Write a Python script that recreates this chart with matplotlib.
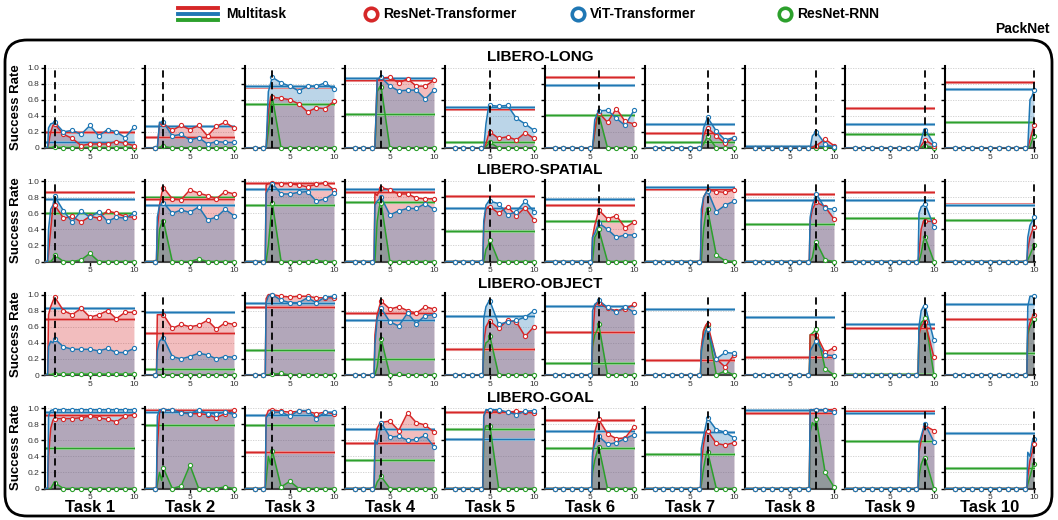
import numpy as np
import matplotlib
matplotlib.use("Agg")
import matplotlib.pyplot as plt
from matplotlib.patches import FancyBboxPatch
from matplotlib.lines import Line2D
from matplotlib.colors import to_rgb

plt.rcParams['font.family'] = ['Liberation Sans', 'DejaVu Sans']

ROW_TITLES = ['LIBERO-LONG', 'LIBERO-SPATIAL', 'LIBERO-OBJECT', 'LIBERO-GOAL']
TASK_LABELS = [f'Task {i}' for i in range(1, 11)]
SERIES = ['ResNet-Transformer', 'ViT-Transformer', 'ResNet-RNN']
X_TICKS = [5, 10]
Y_TICKS = [0, 0.2, 0.4, 0.6, 0.8, 1.0]
Y_TICKLABELS = ['0', '0.2', '0.4', '0.6', '0.8', '1.0']
# x offsets (relative to task k) of the learning-phase samples
TRAIN_OFFSETS = [-0.8, -0.7, -0.45, -0.2]

# ---------------- LIBERO-LONG ----------------
LONG_RED_EVAL = [
    [0.30, 0.17, 0.12, 0.03, 0.05, 0.05, 0.05, 0.08, 0.06, 0.03],
    [0.30, 0.22, 0.28, 0.23, 0.28, 0.15, 0.27, 0.32, 0.25],
    [0.63, 0.62, 0.60, 0.55, 0.45, 0.50, 0.49, 0.58],
    [0.87, 0.88, 0.81, 0.86, 0.77, 0.77, 0.84],
    [0.20, 0.12, 0.14, 0.10, 0.19, 0.12],
    [0.44, 0.32, 0.49, 0.33, 0.30],
    [0.25, 0.15, 0.06, 0.13],
    [0.03, 0.11, 0.03],
    [0.10, 0.03],
    [0.28]]
LONG_BLUE_EVAL = [
    [0.32, 0.20, 0.22, 0.17, 0.28, 0.15, 0.23, 0.20, 0.13, 0.26],
    [0.32, 0.15, 0.17, 0.10, 0.13, 0.05, 0.08, 0.07, 0.07],
    [0.88, 0.81, 0.77, 0.71, 0.77, 0.77, 0.81, 0.73],
    [0.88, 0.77, 0.71, 0.72, 0.72, 0.61, 0.72],
    [0.53, 0.52, 0.53, 0.37, 0.30, 0.22],
    [0.46, 0.47, 0.37, 0.28, 0.47],
    [0.38, 0.21, 0.10, 0.13],
    [0.20, 0.05, 0.01],
    [0.23, 0.05],
    [0.72]]
LONG_GREEN_EVAL = [
    [0.01, 0, 0, 0, 0, 0, 0, 0, 0, 0],
    [0.02, 0, 0, 0, 0, 0, 0, 0, 0],
    [0.63, 0, 0, 0, 0, 0, 0, 0],
    [0.76, 0, 0, 0, 0, 0, 0],
    [0.07, 0, 0, 0, 0, 0],
    [0.42, 0, 0, 0, 0],
    [0.15, 0, 0, 0],
    [0, 0, 0],
    [0.03, 0],
    [0.15]]
LONG_RED_TRAIN = [[0, 0.05, 0.20, 0.28], [0, 0, 0.30, 0.30], [0, 0, 0.45, 0.62], [0, 0, 0.85, 0.86],
                  [0, 0, 0.05, 0.15], [0, 0, 0.20, 0.40], [0, 0, 0.15, 0.22], [0, 0, 0.01, 0.02],
                  [0, 0, 0.03, 0.07], [0, 0, 0.10, 0.20]]
LONG_BLUE_TRAIN = [[0, 0.25, 0.30, 0.31], [0, 0, 0.32, 0.32], [0, 0, 0.70, 0.80], [0, 0, 0.85, 0.87],
                   [0, 0, 0.30, 0.48], [0, 0, 0.35, 0.42], [0, 0, 0.25, 0.32], [0, 0, 0.15, 0.18],
                   [0, 0, 0.10, 0.20], [0, 0, 0.60, 0.65]]
LONG_GREEN_TRAIN = [[0, 0, 0, 0.01], [0, 0, 0.01, 0.02], [0, 0, 0.20, 0.50], [0, 0, 0.70, 0.75],
                    [0, 0, 0.02, 0.05], [0, 0, 0.20, 0.35], [0, 0, 0.05, 0.10], [0, 0, 0, 0],
                    [0, 0, 0.01, 0.02], [0, 0, 0.02, 0.10]]
LONG_MT_RED = [0.20, 0.14, 0.76, 0.84, 0.48, 0.88, 0.19, 0.03, 0.50, 0.82]
LONG_MT_BLUE = [0.07, 0.27, 0.77, 0.87, 0.51, 0.78, 0.30, 0.02, 0.30, 0.73]
LONG_MT_GREEN = [0.01, 0.0, 0.55, 0.42, 0.07, 0.41, 0.07, 0.0, 0.18, 0.32]

# ---------------- LIBERO-SPATIAL ----------------
SPATIAL_RED_EVAL = [
    [0.70, 0.54, 0.56, 0.49, 0.56, 0.54, 0.63, 0.60, 0.56, 0.55],
    [0.92, 0.78, 0.77, 0.89, 0.85, 0.82, 0.78, 0.87, 0.84],
    [0.98, 0.97, 0.97, 0.95, 0.93, 0.96, 0.98, 0.89],
    [0.92, 0.89, 0.84, 0.84, 0.79, 0.78, 0.78],
    [0.68, 0.60, 0.68, 0.57, 0.67, 0.52],
    [0.64, 0.53, 0.57, 0.42, 0.49],
    [0.89, 0.87, 0.86, 0.89],
    [0.74, 0.68, 0.53],
    [0.50, 0.50],
    [0.43]]
SPATIAL_BLUE_EVAL = [
    [0.81, 0.63, 0.49, 0.63, 0.55, 0.62, 0.50, 0.55, 0.54, 0.60],
    [0.73, 0.60, 0.64, 0.61, 0.68, 0.52, 0.55, 0.65, 0.57],
    [0.97, 0.84, 0.84, 0.86, 0.87, 0.75, 0.78, 0.85],
    [0.80, 0.58, 0.63, 0.66, 0.66, 0.72, 0.65],
    [0.75, 0.72, 0.58, 0.62, 0.75, 0.62],
    [0.48, 0.40, 0.30, 0.33, 0.33],
    [0.88, 0.62, 0.70, 0.75],
    [0.84, 0.66, 0.65],
    [0.72, 0.43],
    [0.55]]
SPATIAL_GREEN_EVAL = [
    [0.08, 0, 0, 0.02, 0.10, 0, 0, 0, 0, 0],
    [0.50, 0, 0, 0, 0.03, 0, 0, 0, 0],
    [0.73, 0, 0, 0, 0, 0.01, 0, 0],
    [0.73, 0, 0, 0, 0, 0, 0],
    [0.27, 0, 0, 0, 0, 0],
    [0.40, 0, 0, 0, 0],
    [0.65, 0.08, 0.01, 0],
    [0.24, 0.02, 0],
    [0.30, 0.0],
    [0.20]]
SPATIAL_RED_TRAIN = [[0, 0.10, 0.40, 0.68], [0, 0.40, 0.70, 0.85], [0, 0.95, 0.97, 0.97], [0, 0.85, 0.82, 0.88],
                     [0, 0.45, 0.65, 0.68], [0, 0.30, 0.45, 0.55], [0, 0.50, 0.80, 0.85], [0, 0.50, 0.65, 0.70],
                     [0, 0.10, 0.40, 0.50], [0, 0.15, 0.30, 0.38]]
SPATIAL_BLUE_TRAIN = [[0, 0.40, 0.65, 0.70], [0, 0.55, 0.70, 0.72], [0, 0.85, 0.90, 0.95], [0, 0.70, 0.75, 0.78],
                      [0, 0.50, 0.70, 0.74], [0, 0.30, 0.35, 0.42], [0, 0.65, 0.80, 0.85], [0, 0.55, 0.70, 0.78],
                      [0, 0.60, 0.68, 0.70], [0, 0.30, 0.45, 0.50]]
SPATIAL_GREEN_TRAIN = [[0, 0, 0, 0.03], [0, 0, 0.40, 0.48], [0, 0, 0.20, 0.50], [0, 0, 0.50, 0.68],
                       [0, 0, 0.15, 0.20], [0, 0, 0.30, 0.35], [0, 0, 0.40, 0.60], [0, 0, 0.05, 0.20],
                       [0, 0, 0.10, 0.25], [0, 0.02, 0.08, 0.15]]
SPATIAL_MT_RED = [0.87, 0.78, 0.98, 0.87, 0.82, 0.70, 0.90, 0.84, 0.87, 0.72]
SPATIAL_MT_BLUE = [0.78, 0.70, 0.90, 0.90, 0.67, 0.78, 0.93, 0.76, 0.76, 0.70]
SPATIAL_MT_GREEN = [0.60, 0.80, 0.70, 0.74, 0.38, 0.50, 0.90, 0.47, 0.54, 0.52]

# ---------------- LIBERO-OBJECT ----------------
OBJECT_RED_EVAL = [
    [0.97, 0.80, 0.75, 0.83, 0.72, 0.75, 0.80, 0.70, 0.78, 0.78],
    [0.75, 0.58, 0.63, 0.60, 0.62, 0.68, 0.57, 0.65, 0.63],
    [1.00, 0.98, 0.97, 0.98, 0.98, 0.96, 0.96, 0.96],
    [0.92, 0.82, 0.85, 0.80, 0.77, 0.85, 0.82],
    [0.67, 0.58, 0.68, 0.66, 0.48, 0.60],
    [0.90, 0.83, 0.80, 0.82, 0.88],
    [0.64, 0.20, 0.10, 0.25],
    [0.50, 0.28, 0.34],
    [0.66, 0.22],
    [0.75]]
OBJECT_BLUE_EVAL = [
    [0.45, 0.35, 0.32, 0.32, 0.32, 0.30, 0.33, 0.28, 0.28, 0.33],
    [0.46, 0.23, 0.20, 0.23, 0.27, 0.25, 0.20, 0.23, 0.22],
    [1.00, 0.93, 0.90, 0.90, 0.96, 0.90, 0.97, 0.98],
    [0.83, 0.66, 0.61, 0.77, 0.64, 0.74, 0.75],
    [0.92, 0.63, 0.66, 0.68, 0.72, 0.80],
    [0.93, 0.84, 0.78, 0.85, 0.78],
    [0.57, 0.20, 0.28, 0.27],
    [0.42, 0.25, 0.24],
    [0.86, 0.43],
    [0.98]]
OBJECT_GREEN_EVAL = [
    [0.01, 0.01, 0.01, 0.01, 0.01, 0.01, 0.01, 0.01, 0.01, 0.01],
    [0, 0, 0, 0, 0, 0, 0, 0, 0],
    [0.01, 0.02, 0, 0, 0, 0, 0, 0],
    [0.45, 0, 0.01, 0, 0, 0, 0],
    [0.48, 0, 0, 0, 0, 0],
    [0.63, 0, 0, 0, 0],
    [0.62, 0, 0.05, 0],
    [0.57, 0.08, 0],
    [0.71, 0],
    [0.70]]
OBJECT_RED_TRAIN = [[0, 0.75, 0.85, 0.92], [0, 0.75, 0.75, 0.75], [0, 0.95, 1.00, 1.00], [0, 0.50, 0.75, 0.85],
                    [0, 0.40, 0.60, 0.65], [0, 0.40, 0.85, 0.90], [0, 0.35, 0.55, 0.62], [0, 0.50, 0.50, 0.50],
                    [0, 0.50, 0.60, 0.64], [0, 0.55, 0.65, 0.72]]
OBJECT_BLUE_TRAIN = [[0, 0.35, 0.42, 0.40], [0, 0.30, 0.42, 0.45], [0, 0.90, 0.98, 1.00], [0, 0.38, 0.70, 0.78],
                     [0, 0.70, 0.85, 0.90], [0, 0.80, 0.88, 0.90], [0, 0.30, 0.45, 0.55], [0, 0.30, 0.35, 0.40],
                     [0, 0.60, 0.80, 0.85], [0, 0.85, 0.98, 0.98]]
OBJECT_GREEN_TRAIN = [[0, 0, 0, 0.01], [0, 0, 0, 0], [0, 0, 0, 0.01], [0, 0, 0.10, 0.30],
                      [0, 0.30, 0.40, 0.42], [0, 0.35, 0.50, 0.55], [0, 0.30, 0.55, 0.60], [0, 0.50, 0.52, 0.55],
                      [0, 0.55, 0.65, 0.68], [0, 0.50, 0.60, 0.65]]
OBJECT_MT_RED = [0.70, 0.52, 0.85, 0.77, 0.32, 0.54, 0.19, 0.22, 0.59, 0.70]
OBJECT_MT_BLUE = [0.83, 0.78, 0.90, 0.68, 0.73, 0.86, 0.82, 0.72, 0.63, 0.88]
OBJECT_MT_GREEN = [0.01, 0.08, 0.31, 0.20, 0.32, 0.15, 0.19, 0.22, 0.01, 0.27]

# ---------------- LIBERO-GOAL ----------------
GOAL_RED_EVAL = [
    [0.87, 0.87, 0.87, 0.88, 0.90, 0.88, 0.86, 0.83, 0.90, 0.92],
    [0.98, 0.98, 0.95, 0.93, 0.93, 0.92, 0.88, 0.93, 0.98],
    [0.98, 0.96, 0.95, 0.96, 0.96, 0.93, 0.95, 0.93],
    [0.82, 0.84, 0.72, 0.94, 0.82, 0.79, 0.70],
    [0.97, 0.96, 0.95, 0.96, 0.95, 0.94],
    [0.86, 0.68, 0.62, 0.63, 0.77],
    [0.72, 0.56, 0.54, 0.57],
    [0.98, 0.98, 0.98],
    [0.78, 0.72],
    [0.55]]
GOAL_BLUE_EVAL = [
    [0.98, 0.98, 0.98, 0.98, 0.98, 0.98, 0.98, 0.98, 0.98, 0.98],
    [0.98, 0.98, 0.94, 0.93, 0.98, 0.93, 0.93, 0.95, 0.92],
    [0.95, 0.95, 0.90, 0.97, 0.97, 0.87, 0.95, 0.95],
    [0.82, 0.64, 0.65, 0.60, 0.61, 0.66, 0.52],
    [0.98, 0.98, 0.95, 0.92, 0.96, 0.97],
    [0.65, 0.55, 0.57, 0.62, 0.67],
    [0.88, 0.73, 0.70, 0.63],
    [0.98, 0.98, 0.95],
    [0.80, 0.58],
    [0.62]]
GOAL_GREEN_EVAL = [
    [0.07, 0, 0, 0, 0, 0, 0, 0, 0, 0],
    [0.25, 0, 0.03, 0.29, 0, 0, 0, 0.02, 0],
    [0.47, 0.02, 0.09, 0, 0, 0, 0, 0],
    [0.15, 0, 0, 0, 0, 0, 0],
    [0.78, 0, 0, 0, 0, 0],
    [0.52, 0, 0, 0, 0],
    [0.46, 0, 0, 0],
    [0.86, 0.20, 0.02],
    [0.38, 0],
    [0.31]]
GOAL_RED_TRAIN = [[0, 0.40, 0.75, 0.85], [0, 0.50, 0.95, 0.98], [0, 0.90, 0.97, 0.98], [0, 0.50, 0.75, 0.80],
                  [0, 0.90, 0.97, 0.97], [0, 0.40, 0.70, 0.80], [0, 0.30, 0.55, 0.70], [0, 0.98, 0.98, 0.98],
                  [0, 0.45, 0.60, 0.72], [0, 0.15, 0.35, 0.45]]
GOAL_BLUE_TRAIN = [[0, 0.90, 0.97, 0.98], [0, 0.90, 0.98, 0.98], [0, 0.88, 0.92, 0.94], [0, 0.60, 0.55, 0.70],
                   [0, 0.90, 0.98, 0.98], [0, 0.45, 0.55, 0.62], [0, 0.50, 0.65, 0.78], [0, 0.98, 0.98, 0.98],
                   [0, 0.55, 0.65, 0.75], [0, 0.45, 0.40, 0.58]]
GOAL_GREEN_TRAIN = [[0, 0, 0, 0.05], [0, 0.05, 0.20, 0.10], [0, 0.10, 0.40, 0.30], [0, 0, 0.08, 0.12],
                    [0, 0.70, 0.78, 0.78], [0, 0.20, 0.35, 0.45], [0, 0.05, 0.25, 0.40], [0, 0.70, 0.82, 0.78],
                    [0, 0.15, 0.30, 0.37], [0, 0.05, 0.15, 0.25]]
GOAL_MT_RED = [0.91, 0.98, 0.45, 0.57, 0.95, 0.85, 0.70, 0.94, 0.97, 0.69]
GOAL_MT_BLUE = [0.95, 0.95, 0.92, 0.74, 0.62, 0.72, 0.70, 0.98, 0.94, 0.69]
GOAL_MT_GREEN = [0.50, 0.79, 0.79, 0.35, 0.74, 0.50, 0.43, 0.94, 0.59, 0.26]

RED, BLUE, GREEN = '#d62728', '#1f77b4', '#2ca02c'

ROWS = [
    dict(eval=[LONG_GREEN_EVAL, LONG_RED_EVAL, LONG_BLUE_EVAL],
         train=[LONG_GREEN_TRAIN, LONG_RED_TRAIN, LONG_BLUE_TRAIN],
         mt=[LONG_MT_GREEN, LONG_MT_RED, LONG_MT_BLUE]),
    dict(eval=[SPATIAL_GREEN_EVAL, SPATIAL_RED_EVAL, SPATIAL_BLUE_EVAL],
         train=[SPATIAL_GREEN_TRAIN, SPATIAL_RED_TRAIN, SPATIAL_BLUE_TRAIN],
         mt=[SPATIAL_MT_GREEN, SPATIAL_MT_RED, SPATIAL_MT_BLUE]),
    dict(eval=[OBJECT_GREEN_EVAL, OBJECT_RED_EVAL, OBJECT_BLUE_EVAL],
         train=[OBJECT_GREEN_TRAIN, OBJECT_RED_TRAIN, OBJECT_BLUE_TRAIN],
         mt=[OBJECT_MT_GREEN, OBJECT_MT_RED, OBJECT_MT_BLUE]),
    dict(eval=[GOAL_GREEN_EVAL, GOAL_RED_EVAL, GOAL_BLUE_EVAL],
         train=[GOAL_GREEN_TRAIN, GOAL_RED_TRAIN, GOAL_BLUE_TRAIN],
         mt=[GOAL_MT_GREEN, GOAL_MT_RED, GOAL_MT_BLUE]),
]
SERIES_COLORS = [GREEN, RED, BLUE]


def lighten(col, a=0.4):
    rgb = np.array(to_rgb(col))
    return tuple(1 - a * (1 - rgb))


W, H = 1058, 520
fig = plt.figure(figsize=(W / 100, H / 100), dpi=100)

# rounded frame
frame = FancyBboxPatch((5 / 100, 4 / 100), (1047 / 100), (476 / 100),
                       boxstyle="round,pad=0,rounding_size=0.22",
                       transform=fig.dpi_scale_trans, fill=False,
                       edgecolor='black', linewidth=2.0, zorder=0)
fig.add_artist(frame)

row_top_px = [66, 179.5, 293, 406.5]
panel_h_px = 82
for r, row in enumerate(ROWS):
    for c in range(10):
        k = c + 1
        left = (45 + 100 * c) / W
        bottom = (H - (row_top_px[r] + panel_h_px)) / H
        ax = fig.add_axes([left, bottom, 90 / W, panel_h_px / H])
        ax.set_xlim(-0.1, 10.12)
        ax.set_ylim(0, 1.02)
        for s in range(3):
            col = SERIES_COLORS[s]
            ev = row['eval'][s][c]
            tr = row['train'][s][c]
            xs = list(range(0, k)) + [k + o for o in TRAIN_OFFSETS] + list(range(k, 11))
            ys = [0.0] * k + list(tr) + list(ev)
            ax.fill_between(xs, 0, ys, color=col, alpha=0.3, lw=0, zorder=1 + s * 0.1)
        for s in range(3):
            col = SERIES_COLORS[s]
            mt = row['mt'][s][c]
            ax.axhline(mt, color=lighten(col, 0.45), lw=2.2, zorder=2 + s * 0.1)
            ax.axhline(mt, color=col, lw=1.0, zorder=2.05 + s * 0.1)
        for s in range(3):
            col = SERIES_COLORS[s]
            ev = row['eval'][s][c]
            tr = row['train'][s][c]
            xs = list(range(0, k)) + [k + o for o in TRAIN_OFFSETS] + list(range(k, 11))
            ys = [0.0] * k + list(tr) + list(ev)
            ax.plot(xs, ys, color=col, lw=1.1, zorder=3 + s * 0.1)
            mx = list(range(1, 11))
            my = [0.0] * (k - 1) + list(ev)
            ax.plot(mx, my, ls='none', marker='o', ms=3.0, mfc='white', mec=col,
                    mew=0.8, zorder=4 + s * 0.1, clip_on=False)
        ax.axvline(k, color='black', ls=(0, (4, 2.5)), lw=1.3, zorder=5)
        for yv in Y_TICKS[1:]:
            ax.axhline(yv, color='#cccccc', lw=0.6, ls=(0, (1.5, 1.5)), zorder=0.5)
        for sp in ['top', 'right']:
            ax.spines[sp].set_visible(False)
        ax.spines['left'].set_color('black')
        ax.spines['left'].set_linewidth(1.5)
        ax.spines['bottom'].set_color('#444444')
        ax.spines['bottom'].set_linewidth(1.5)
        ax.set_xticks(X_TICKS)
        ax.set_xticklabels([str(t) for t in X_TICKS], fontsize=6, color='#333333')
        ax.set_yticks(Y_TICKS)
        ax.tick_params(axis='both', length=3, width=1, pad=1)
        if c == 0:
            ax.set_yticklabels(Y_TICKLABELS, fontsize=6, color='#333333')
            ax.set_ylabel('Success Rate', fontsize=9.5, fontweight='bold', labelpad=4)
        else:
            ax.set_yticklabels([])
        ax.set_facecolor('none')
    # row title
    fig.text(540 / W, 1 - (row_top_px[r] - 9) / H, ROW_TITLES[r], ha='center', va='center',
             fontsize=11, fontweight='bold')

for c in range(10):
    fig.text((90 + 100 * c) / W, 1 - 508 / H, TASK_LABELS[c], ha='center', va='center',
             fontsize=12, fontweight='bold')

fig.text(1050 / W, 1 - 29 / H, 'PackNet', ha='right', va='center', fontsize=10, fontweight='bold')

# legend
ly = 1 - 14 / H
for dy, col in zip([-6, 0, 6], [RED, BLUE, GREEN]):
    fig.add_artist(Line2D([178 / W, 218 / W], [ly - dy / H] * 2, color=col, lw=2.8,
                          transform=fig.transFigure))
fig.text(226 / W, ly, 'Multitask', ha='left', va='center', fontsize=10, fontweight='bold')
for xm, col, lab in [(371, RED, SERIES[0]), (578, BLUE, SERIES[1]), (785, GREEN, SERIES[2])]:
    fig.add_artist(Line2D([xm / W], [ly], marker='o', ms=9, mfc='white', mec=col, mew=2.6,
                          ls='none', transform=fig.transFigure))
    fig.text((xm + 12) / W, ly, lab, ha='left', va='center', fontsize=10, fontweight='bold')

fig.savefig('out.png', dpi=100)
